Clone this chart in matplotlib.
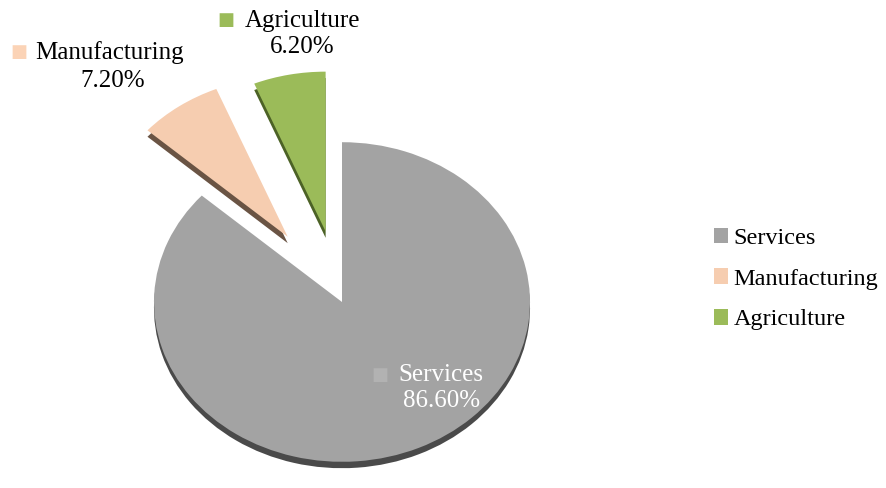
import numpy as np
import matplotlib
matplotlib.use('Agg')
import matplotlib.pyplot as plt

### Sector shares (%)
sectors= ['Services','Manufacturing','Agriculture']
shares= [86.6, 7.2, 6.2]
face_colors= ['#a3a3a3','#f6cdb0','#9bbb59']
side_colors= ['#4a4a4a','#6a5444','#4c6226']
explode= [0.0, 0.50, 0.45]

W,H= 886,488
cx,cy= 342,302       # pie centre (pixels from top-left)
rx= 188              # horizontal radius in pixels
squash= 0.85         # tilted look: vertical / horizontal radius
depth= 0.04          # thickness of the pie side

def fx(px): return px/W
def fy(py): return 1-py/H

serif= ['Liberation Serif','DejaVu Serif']

fig= plt.figure(figsize=(W/100,H/100),dpi=100)
ax= fig.add_axes([0,0,1,1])

### Side walls first (same pie, shifted down), then the top faces
ax.pie(shares,colors=side_colors,startangle=90,counterclock=False,
       explode=explode,center=(0,-depth),wedgeprops=dict(lw=0))
wedges,_= ax.pie(shares,colors=face_colors,startangle=90,counterclock=False,
                 explode=explode,wedgeprops=dict(lw=0))

ax.set_aspect('auto')
ax.set_xlim((0-cx)/rx,(W-cx)/rx)
ry= rx*squash
ax.set_ylim((cy-H)/ry,cy/ry)
ax.axis('off')

### Data labels
pct= ['{:.2f}%'.format(v) for v in shares]
lab_fs= 18
# Agriculture
fig.text(fx(226),fy(20),'\u25a0',color=face_colors[2],fontsize=13,ha='center',va='center',family='DejaVu Sans')
fig.text(fx(245),fy(21),sectors[2],fontsize=lab_fs,ha='left',va='center',family=serif)
fig.text(fx(302),fy(47),pct[2],fontsize=lab_fs,ha='center',va='center',family=serif)
# Manufacturing
fig.text(fx(19),fy(52),'\u25a0',color='#fbd3b6',fontsize=13,ha='center',va='center',family='DejaVu Sans')
fig.text(fx(35),fy(53),sectors[1],fontsize=lab_fs,ha='left',va='center',family=serif)
fig.text(fx(113),fy(81),pct[1],fontsize=lab_fs,ha='center',va='center',family=serif)
# Services (inside the slice)
fig.text(fx(380),fy(375),'\u25a0',color='#b2b2b2',fontsize=13,ha='center',va='center',family='DejaVu Sans')
fig.text(fx(398),fy(375),sectors[0],fontsize=lab_fs,ha='left',va='center',color='white',family=serif)
fig.text(fx(442),fy(401),pct[0],fontsize=lab_fs,ha='center',va='center',color='white',family=serif)

### Legend
leg= ax.legend(wedges,sectors,loc='center left',bbox_to_anchor=(fx(692),fy(279)),
               bbox_transform=fig.transFigure,frameon=False,
               prop=dict(family=serif,size=17.5),handlelength=0.6,handleheight=0.6,
               handletextpad=0.2,labelspacing=0.8)

fig.savefig('out.png',dpi=100)
